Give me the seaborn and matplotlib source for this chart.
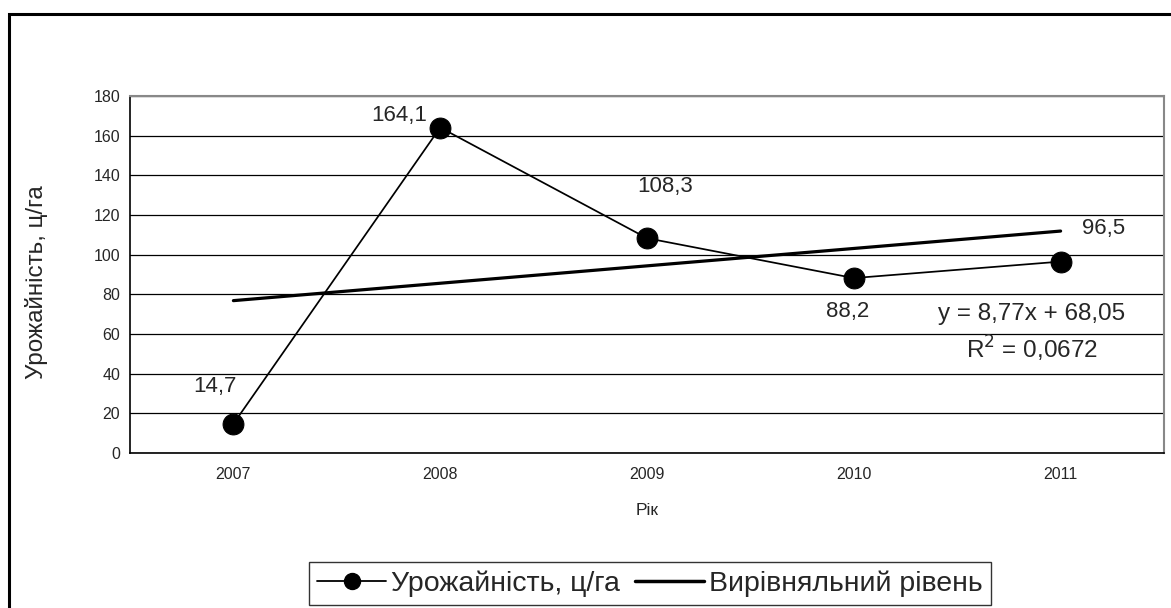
import seaborn as sns
import pandas as pd
import numpy as np
import matplotlib.pyplot as plt
from matplotlib.patches import Rectangle
from matplotlib.lines import Line2D

years = ['2007', '2008', '2009', '2010', '2011']
yields = [14.7, 164.1, 108.3, 88.2, 96.5]
labels = ['14,7', '164,1', '108,3', '88,2', '96,5']
slope, intercept = 8.77, 68.05
r2_text = '0,0672'

sns.set_style('white')
plt.rcParams['font.family'] = ['Liberation Sans', 'DejaVu Sans']

df = pd.DataFrame({'pos': np.arange(len(years)), 'year': years, 'y': yields})
df['trend'] = slope * (df['pos'] + 1) + intercept

fig = plt.figure(figsize=(11.71, 6.08), dpi=100)
ax = fig.add_axes([130 / 1171, 1 - 453 / 608, 1034 / 1171, 357 / 608])

# outer chart border
fig.patches.append(Rectangle((9 / 1171, -0.1), 1.2, 1.1 - 14 / 608,
                             transform=fig.transFigure, fill=False,
                             edgecolor='black', linewidth=2.2, zorder=0))

sns.lineplot(data=df, x='pos', y='trend', ax=ax, color='black',
             linewidth=2.3, zorder=3)
sns.lineplot(data=df, x='pos', y='y', ax=ax, color='black', linewidth=1.25,
             marker='o', markersize=15, markeredgecolor='black', zorder=4)

# data labels
offsets = [(-0.09, 19), (-0.20, 6), (0.09, 26), (-0.03, -17), (0.21, 16.5)]
for i, (dx, dy) in enumerate(offsets):
    ax.text(i + dx, yields[i] + dy, labels[i], ha='center', va='center',
            fontsize=16)

ax.text(3.86, 70, 'y = 8,77x + 68,05', ha='center', va='center', fontsize=17.5)
ax.text(3.86, 52.5, 'R$^2$ = ' + r2_text, ha='center', va='center', fontsize=17.5)

ax.set_xlim(-0.5, 4.5)
ax.set_ylim(0, 180)
ax.set_yticks(range(0, 181, 20))
ax.set_xticks(range(len(years)))
ax.set_xticklabels(years, fontsize=11.5)
ax.set_xticks(np.arange(-0.5, 4.6, 1), minor=True)
ax.tick_params(axis='x', which='major', length=0, pad=10)
ax.tick_params(axis='x', which='minor', length=5, width=1, direction='out')
ax.tick_params(axis='y', length=5, width=1, direction='out', labelsize=11.5, pad=2)
ax.yaxis.grid(True, color='black', linewidth=0.9)
ax.set_axisbelow(True)
for s in ['left', 'bottom']:
    ax.spines[s].set_color('black')
    ax.spines[s].set_linewidth(1.2)
for s in ['top', 'right']:
    ax.spines[s].set_color('#888888')
    ax.spines[s].set_linewidth(1.5)
ax.set_xlabel('Рік', fontsize=12.5)
ax.xaxis.set_label_coords(0.5, -0.14)
ax.set_ylabel('Урожайність, ц/га', fontsize=17.5)
ax.yaxis.set_label_coords(-0.079, 0.479)

handles = [Line2D([], [], color='black', linewidth=1.3, marker='o', markersize=11.5),
           Line2D([], [], color='black', linewidth=2.5)]
leg = fig.legend(handles, ['Урожайність, ц/га', 'Вирівняльний рівень'],
                 loc='center', bbox_to_anchor=(650 / 1171, 1 - 583.5 / 608),
                 ncol=2, fontsize=20.5, frameon=True, fancybox=False,
                 edgecolor='black', handlelength=2.4, handletextpad=0.18,
                 columnspacing=0.55, borderpad=0.28)
leg.get_frame().set_linewidth(1.0)

fig.savefig('out.png', dpi=100)
